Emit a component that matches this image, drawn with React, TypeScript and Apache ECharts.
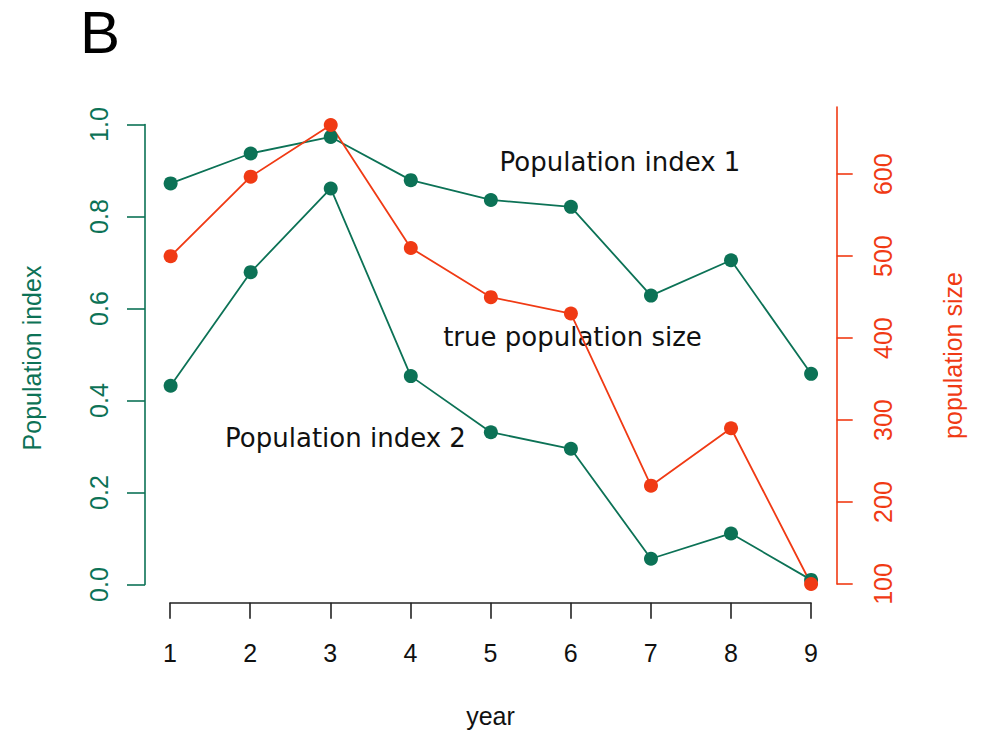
import React, { useEffect, useRef } from "react";
import * as echarts from "echarts";

const years = [1, 2, 3, 4, 5, 6, 7, 8, 9];
const index1 = [0.872, 0.937, 0.973, 0.879, 0.836, 0.821, 0.628, 0.705, 0.458];
const index2 = [0.432, 0.679, 0.861, 0.453, 0.331, 0.295, 0.056, 0.111, 0.01];
const popSize = [500, 597, 660, 510, 450, 430, 220, 290, 100];
const leftTicks = [0, 0.2, 0.4, 0.6, 0.8, 1.0];
const rightTicks = [100, 200, 300, 400, 500, 600];

const GREEN = "#0c7256";
const RED = "#f03a14";
const AXISFONT = "'Liberation Sans', Arial, sans-serif";
const ANNOFONT = "'DejaVu Sans', sans-serif";

export default function App() {
  const ref = useRef<HTMLDivElement>(null);
  useEffect(() => {
    if (!ref.current) return;
    const chart = echarts.init(ref.current, undefined, { renderer: "svg" });
    const xHidden = {
      type: "value",
      min: 0.68,
      max: 9.32,
      show: false,
    };
    chart.setOption({
      animation: false,
      backgroundColor: "#fff",
      grid: [
        { left: 145, right: 152.3, top: 124.5, bottom: 148.5 },
        { left: 145, right: 152.3, top: 107, bottom: 149 },
        { left: 170, right: 178, top: 592.7, bottom: 130.3 },
      ],
      xAxis: [
        { ...xHidden, gridIndex: 0 },
        { ...xHidden, gridIndex: 1 },
        {
          gridIndex: 2,
          type: "value",
          min: 1,
          max: 9,
          interval: 1,
          position: "bottom",
          name: "year",
          nameLocation: "middle",
          nameGap: 101,
          nameTextStyle: { color: "#111", fontSize: 25, fontFamily: AXISFONT },
          axisLine: { show: true, lineStyle: { color: "#222", width: 1.6 } },
          axisTick: { show: true, length: 16, lineStyle: { color: "#222", width: 1.6 } },
          axisLabel: { color: "#111", fontSize: 25, fontFamily: AXISFONT, margin: 38 },
          splitLine: { show: false },
        },
      ],
      yAxis: [
        {
          gridIndex: 0,
          type: "value",
          min: 0,
          max: 1,
          interval: 0.2,
          position: "left",
          name: "Population index",
          nameLocation: "middle",
          nameGap: 101,
          nameTextStyle: {
            color: GREEN,
            fontSize: 25,
            fontFamily: AXISFONT,
            padding: [0, 7, 0, 0],
          },
          axisLine: { show: true, lineStyle: { color: GREEN, width: 1.6 } },
          axisTick: {
            show: true,
            length: 18,
            lineStyle: { color: GREEN, width: 1.6 },
            customValues: leftTicks,
          },
          axisLabel: {
            color: GREEN,
            fontSize: 25,
            fontFamily: AXISFONT,
            rotate: 90,
            margin: 34,
            customValues: leftTicks,
            formatter: (v: number) => v.toFixed(1),
          },
          splitLine: { show: false },
        },
        {
          gridIndex: 1,
          type: "value",
          min: 100,
          max: 682,
          interval: 100,
          position: "right",
          name: "population size",
          nameLocation: "middle",
          nameGap: 104,
          nameTextStyle: {
            color: RED,
            fontSize: 25,
            fontFamily: AXISFONT,
            padding: [0, 20, 0, 0],
          },
          axisLine: { show: true, lineStyle: { color: RED, width: 1.6 } },
          axisTick: {
            show: true,
            length: 16,
            lineStyle: { color: RED, width: 1.6 },
            customValues: rightTicks,
          },
          axisLabel: {
            color: RED,
            fontSize: 25,
            fontFamily: AXISFONT,
            rotate: 90,
            margin: 34,
            customValues: rightTicks,
          },
          splitLine: { show: false },
        },
        { gridIndex: 2, type: "value", show: false },
      ],
      series: [
        {
          name: "Population index 1",
          type: "line",
          xAxisIndex: 0,
          yAxisIndex: 0,
          data: years.map((y, i) => [y, index1[i]]),
          symbol: "circle",
          symbolSize: 14,
          itemStyle: { color: GREEN },
          lineStyle: { color: GREEN, width: 1.8 },
        },
        {
          name: "Population index 2",
          type: "line",
          xAxisIndex: 0,
          yAxisIndex: 0,
          data: years.map((y, i) => [y, index2[i]]),
          symbol: "circle",
          symbolSize: 14,
          itemStyle: { color: GREEN },
          lineStyle: { color: GREEN, width: 1.8 },
        },
        {
          name: "true population size",
          type: "line",
          xAxisIndex: 1,
          yAxisIndex: 1,
          data: years.map((y, i) => [y, popSize[i]]),
          symbol: "circle",
          symbolSize: 14,
          itemStyle: { color: RED },
          lineStyle: { color: RED, width: 1.8 },
        },
      ],
      graphic: [
        {
          type: "text",
          x: 80,
          y: 32,
          style: {
            text: "B",
            fill: "#000",
            fontSize: 60,
            fontFamily: AXISFONT,
            align: "left",
            verticalAlign: "middle",
          },
        },
        {
          type: "text",
          x: 620,
          y: 162,
          style: {
            text: "Population index 1",
            fill: "#111",
            fontSize: 26,
            fontFamily: ANNOFONT,
            align: "center",
            verticalAlign: "middle",
          },
        },
        {
          type: "text",
          x: 572.5,
          y: 337,
          style: {
            text: "true population size",
            fill: "#111",
            fontSize: 26,
            fontFamily: ANNOFONT,
            align: "center",
            verticalAlign: "middle",
          },
        },
        {
          type: "text",
          x: 345.5,
          y: 438,
          style: {
            text: "Population index 2",
            fill: "#111",
            fontSize: 26,
            fontFamily: ANNOFONT,
            align: "center",
            verticalAlign: "middle",
          },
        },
      ],
    });
    return () => chart.dispose();
  }, []);
  return (
    <div
      ref={ref}
      style={{ position: "fixed", left: 0, top: 0, width: 989, height: 733, background: "#fff" }}
    />
  );
}
